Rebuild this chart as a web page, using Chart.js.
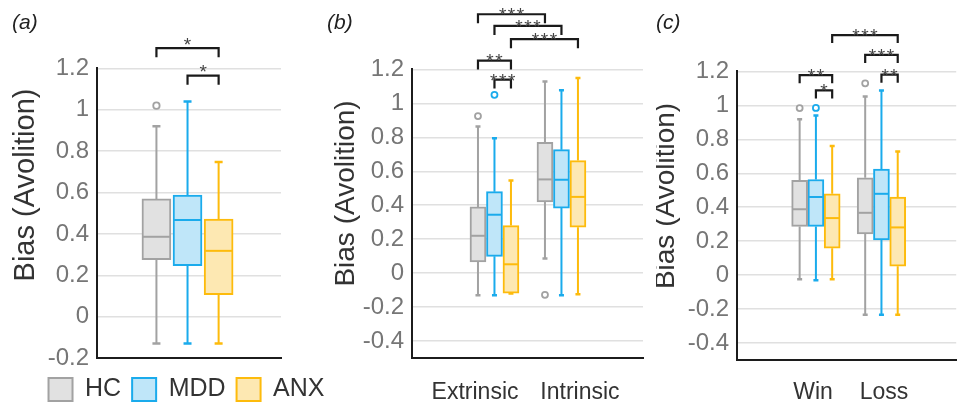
<!DOCTYPE html>
<html><head><meta charset="utf-8">
<script src="https://cdn.jsdelivr.net/npm/chart.js@4.4.1/dist/chart.umd.min.js"></script>
<style>
html,body{margin:0;padding:0;background:#fff;overflow:hidden;}
#wrap{position:relative;width:962px;height:403px;overflow:hidden;background:#fff;}
canvas{position:absolute;top:0;}
</style></head><body>
<div id="wrap">
<canvas id="ca" width="349" height="412" style="left:12px;width:349px;height:412px"></canvas>
<canvas id="cb" width="323" height="403" style="left:327px;width:323px;height:403px"></canvas>
<canvas id="cc" width="306" height="403" style="left:656px;width:306px;height:403px"></canvas>
</div>
<script>
// ---------------- DATA ----------------
const seriesNames = ['HC', 'MDD', 'ANX'];
const groupsA = [''];
const groupsB = ['Extrinsic', 'Intrinsic'];
const groupsC = ['Win', 'Loss'];
const yTicksA = [-0.2, 0, 0.2, 0.4, 0.6, 0.8, 1, 1.2];
const yTicksBC = [-0.4, -0.2, 0, 0.2, 0.4, 0.6, 0.8, 1, 1.2];
const yTitle = 'Bias (Avolition)';

// box stats per group: [low whisker, Q1, median, Q3, high whisker]
const statsA_HC  = [[-0.13, 0.275, 0.386, 0.569, 0.92]];
const statsA_MDD = [[-0.13, 0.246, 0.467, 0.588, 1.04]];
const statsA_ANX = [[-0.13, 0.106, 0.318, 0.472, 0.747]];
const outA_HC  = [[1.02]];
const outA_MDD = [[]];
const outA_ANX = [[]];

const statsB_HC  = [[-0.13, 0.066, 0.22, 0.39, 0.863], [0.086, 0.42, 0.552, 0.771, 1.129]];
const statsB_MDD = [[-0.13, 0.099, 0.344, 0.48, 0.795], [-0.13, 0.383, 0.55, 0.727, 1.077]];
const statsB_ANX = [[-0.12, -0.118, 0.052, 0.28, 0.546], [-0.125, 0.27, 0.449, 0.663, 1.149]];
const outB_HC  = [[0.925], [-0.128]];
const outB_MDD = [[1.05], []];
const outB_ANX = [[], []];

const statsC_HC  = [[-0.025, 0.287, 0.388, 0.559, 0.918], [-0.233, 0.243, 0.367, 0.573, 1.052]];
const statsC_MDD = [[-0.03, 0.287, 0.46, 0.563, 0.94], [-0.233, 0.208, 0.479, 0.625, 1.087]];
const statsC_ANX = [[-0.025, 0.159, 0.336, 0.479, 0.761], [-0.233, 0.052, 0.281, 0.46, 0.728]];
const outC_HC  = [[0.984], [1.13]];
const outC_MDD = [[0.985], []];
const outC_ANX = [[], []];

// significance brackets: [group1, series1, group2, series2, height (axis units), label]
const sigA = [[0, 0, 0, 2, 1.298, '*'], [0, 1, 0, 2, 1.165, '*']];
const sigB = [[0, 0, 1, 0, 1.525, '***'], [0, 1, 1, 1, 1.456, '***'], [0, 2, 1, 2, 1.378, '***'],
              [0, 0, 0, 2, 1.252, '**'], [0, 1, 0, 2, 1.14, '***']];
const sigC = [[0, 2, 1, 2, 1.414, '***'], [1, 0, 1, 2, 1.297, '***'], [1, 1, 1, 2, 1.181, '**'],
              [0, 0, 0, 2, 1.178, '**'], [0, 1, 0, 2, 1.088, '*']];

// ---------------- STYLE ----------------
const FONT = "'Liberation Sans', Arial, Helvetica, sans-serif";
const seriesBorder = ['#a2a2a2', '#1aabec', '#fdbb0c'];
const seriesFill = ['#e1e1e1', '#bfe6f9', '#fde8b2'];
const AXIS = '#1c1c1c';
Chart.defaults.font.family = FONT;

function makeExtras(P) {
  return {
    id: 'boxExtras',
    afterDatasetsDraw(chart) {
      const ctx = chart.ctx, x = chart.scales.x, y = chart.scales.y;
      ctx.save();
      P.stats.forEach((ser, si) => {
        ser.forEach((st, gi) => {
          const cx = x.getPixelForValue(P.pos(gi, si));
          const lo = y.getPixelForValue(st[0]), q1 = y.getPixelForValue(st[1]),
                md = y.getPixelForValue(st[2]), q3 = y.getPixelForValue(st[3]),
                hi = y.getPixelForValue(st[4]);
          ctx.strokeStyle = seriesBorder[si];
          ctx.lineWidth = P.whiskerW;
          ctx.beginPath();
          ctx.moveTo(cx, q1); ctx.lineTo(cx, lo);
          ctx.moveTo(cx, q3); ctx.lineTo(cx, hi);
          ctx.stroke();
          ctx.lineWidth = P.capLW;
          ctx.beginPath();
          ctx.moveTo(cx - P.capW / 2, lo); ctx.lineTo(cx + P.capW / 2, lo);
          ctx.moveTo(cx - P.capW / 2, hi); ctx.lineTo(cx + P.capW / 2, hi);
          ctx.stroke();
          ctx.lineWidth = 2;
          ctx.beginPath();
          ctx.moveTo(cx - P.barW / 2 + 1, md); ctx.lineTo(cx + P.barW / 2 - 1, md);
          ctx.stroke();
        });
      });
      ctx.restore();
    },
    afterDraw(chart) {
      const ctx = chart.ctx, x = chart.scales.x, y = chart.scales.y;
      ctx.save();
      // significance brackets
      P.sig.forEach(b => {
        const x1 = x.getPixelForValue(P.pos(b[0], b[1]));
        const x2 = x.getPixelForValue(P.pos(b[2], b[3]));
        const yy = y.getPixelForValue(b[4]);
        ctx.strokeStyle = '#1a1a1a';
        ctx.lineWidth = 2.2;
        ctx.beginPath();
        ctx.moveTo(x1, yy + P.tickLen); ctx.lineTo(x1, yy); ctx.lineTo(x2, yy); ctx.lineTo(x2, yy + P.tickLen);
        ctx.stroke();
        ctx.fillStyle = '#444444';
        ctx.font = '19px ' + FONT;
        ctx.textAlign = 'center';
        ctx.textBaseline = 'alphabetic';
        try { ctx.letterSpacing = '1.5px'; } catch (e) {}
        ctx.fillText(b[5], (x1 + x2) / 2 + 0.75, yy - P.starOff + 0.575 * 19);
        try { ctx.letterSpacing = '0px'; } catch (e) {}
      });
      // y axis title
      ctx.translate(P.titleX - P.left, P.titleY);
      ctx.rotate(-Math.PI / 2);
      ctx.fillStyle = '#333333';
      ctx.font = P.titleSize + 'px ' + FONT;
      ctx.textAlign = 'center';
      ctx.textBaseline = 'middle';
      ctx.fillText(yTitle, 0, 0);
      ctx.restore();
    }
  };
}

function buildPanel(P) {
  const datasets = [];
  seriesNames.forEach((name, si) => {
    datasets.push({
      type: 'bar', label: name,
      data: P.stats[si].map((st, gi) => ({ x: P.pos(gi, si), y: [st[1], st[3]] })),
      backgroundColor: seriesFill[si], borderColor: seriesBorder[si], borderWidth: 2,
      borderSkipped: false, barThickness: P.barW, grouped: false,
      xAxisID: 'x', yAxisID: 'y'
    });
  });
  seriesNames.forEach((name, si) => {
    const pts = [];
    P.outliers[si].forEach((arr, gi) => arr.forEach(v => pts.push({ x: P.pos(gi, si), y: v })));
    datasets.push({
      type: 'scatter', label: name + ' outliers', data: pts, showLine: false,
      pointRadius: P.outR, pointBorderWidth: 1.8, pointBackgroundColor: '#ffffff',
      pointBorderColor: seriesBorder[si], xAxisID: 'x', yAxisID: 'y'
    });
  });
  const scales = {
    x: {
      type: 'linear', min: 0, max: 1, offset: false, position: 'bottom',
      grid: { display: false },
      border: { display: true, color: AXIS, width: 2 },
      ticks: P.labelPos ? {
        display: true, autoSkip: false, maxRotation: 0, minRotation: 0,
        padding: P.xPad, color: '#333333', font: { size: 23 },
        callback: (v, i) => P.groups[i]
      } : { display: false },
      afterBuildTicks: s => { if (P.labelPos) s.ticks = P.labelPos.map(v => ({ value: v })); },
      afterFit: s => { s.height = P.xAxisH; }
    },
    y: {
      type: 'linear', min: P.yMin, max: P.yMax, position: 'left',
      afterBuildTicks: s => { s.ticks = P.ticks.map(v => ({ value: v })); },
      ticks: { color: '#767676', font: { size: 24 }, padding: 8, callback: v => String(v) },
      grid: { color: '#e0e0e0', lineWidth: 1.5, drawTicks: false },
      border: { display: true, color: AXIS, width: 2 },
      afterFit: s => { s.width = P.yAxisW; }
    }
  };
  if (P.rightW) {
    scales.yR = {
      type: 'linear', position: 'right', display: true,
      ticks: { display: false }, grid: { display: false }, border: { display: false },
      afterFit: s => { s.width = P.rightW; }
    };
  }
  return new Chart(document.getElementById(P.canvas), {
    type: 'bar',
    data: { datasets },
    options: {
      responsive: false, animation: false, devicePixelRatio: 1, events: [],
      layout: { padding: { left: 0, right: P.padRight, top: 0, bottom: 0 } },
      scales,
      plugins: {
        tooltip: { enabled: false },
        title: {
          display: true, text: P.letter, align: 'start', color: '#222222',
          font: { size: 21, style: 'italic', weight: 'normal' },
          padding: { top: P.tTop, bottom: P.tBottom }
        },
        legend: P.legend ? {
          display: true, position: 'bottom', align: 'center',
          labels: {
            boxWidth: 24, boxHeight: 23, padding: 11, color: '#333333',
            font: { size: 25 },
            filter: item => item.datasetIndex < 3
          }
        } : { display: false }
      }
    },
    plugins: [makeExtras(P)]
  });
}

buildPanel({
  canvas: 'ca', left: 12, letter: '(a)', groups: groupsA, labelPos: null,
  stats: [statsA_HC, statsA_MDD, statsA_ANX], outliers: [outA_HC, outA_MDD, outA_ANX], sig: sigA,
  ticks: yTicksA, yMin: -0.2, yMax: 1.2,
  pos: (g, s) => 0.492 + (s - 1) * 0.169,
  barW: 29, capW: 8, capLW: 2.5, whiskerW: 2, outR: 3.2, tickLen: 9, starOff: 8.5,
  yAxisW: 85, rightW: 80, padRight: 0, xAxisH: 8, tTop: 10.6, tBottom: 32.6,
  titleX: 26, titleY: 185, titleSize: 29, legend: true, xPad: 0
});
buildPanel({
  canvas: 'cb', left: 327, letter: '(b)', groups: groupsB, labelPos: [0.273, 0.727],
  stats: [statsB_HC, statsB_MDD, statsB_ANX], outliers: [outB_HC, outB_MDD, outB_ANX], sig: sigB,
  ticks: yTicksBC, yMin: -0.5, yMax: 1.2,
  pos: (g, s) => [0.357, 0.647][g] + (s - 1) * 0.0714,
  barW: 16, capW: 5, capLW: 2.5, whiskerW: 2, outR: 3, tickLen: 9, starOff: 4,
  yAxisW: 85, rightW: 0, padRight: 7, xAxisH: 45, tTop: 10.6, tBottom: 33.6,
  titleX: 346.7, titleY: 193.5, titleSize: 28, legend: false, xPad: 13
});
buildPanel({
  canvas: 'cc', left: 656, letter: '(c)', groups: groupsC, labelPos: [0.347, 0.671],
  stats: [statsC_HC, statsC_MDD, statsC_ANX], outliers: [outC_HC, outC_MDD, outC_ANX], sig: sigC,
  ticks: yTicksBC, yMin: -0.5, yMax: 1.2,
  pos: (g, s) => [0.36, 0.659][g] + (s - 1) * 0.0742,
  barW: 16, capW: 5, capLW: 2.5, whiskerW: 2, outR: 3, tickLen: 8, starOff: 4,
  yAxisW: 81, rightW: 0, padRight: 0, xAxisH: 43, tTop: 10.6, tBottom: 35.6,
  titleX: 666.7, titleY: 196, titleSize: 28, legend: false, xPad: 11
});
</script>
</body></html>
